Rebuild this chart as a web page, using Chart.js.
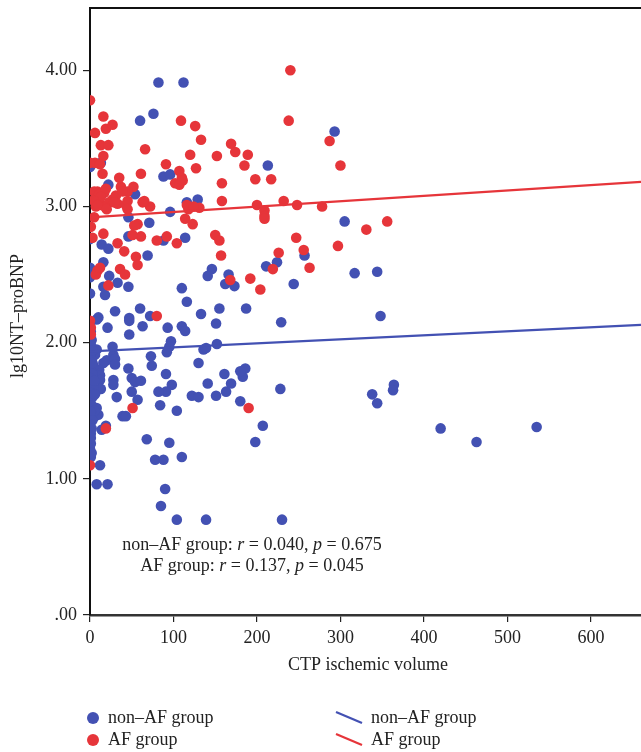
<!DOCTYPE html>
<html>
<head>
<meta charset="utf-8">
<script src="https://cdn.jsdelivr.net/npm/chart.js@4"></script>
<style>
  html, body { margin:0; padding:0; background:#fff; overflow:hidden; }
  #wrap { position:relative; width:641px; height:752px; }
</style>
</head>
<body>
<div id="wrap"><canvas id="c" width="641" height="752"></canvas></div>
<script>
// ---- data ----
const xTickValues = [0, 100, 200, 300, 400, 500, 600];
const yTickValues = [0, 1, 2, 3, 4];
const yTickLabels = ['.00', '1.00', '2.00', '3.00', '4.00'];

// AF group (red), [volume, lg10NT-proBNP]
const afPoints = [
  [240,4.00],[238,3.63],[0,3.78],[16,3.66],[6,3.54],[19,3.57],[27,3.60],[13,3.45],[22,3.45],[16,3.37],
  [6,3.32],[0,3.32],[12,3.31],[15,3.24],[66,3.42],[109,3.63],[126,3.59],[133,3.49],[120,3.38],[91,3.31],
  [127,3.28],[61,3.24],[107,3.26],[110,3.21],[102,3.17],[107,3.16],[111,3.19],[152,3.37],[169,3.46],[174,3.40],
  [189,3.38],[185,3.30],[158,3.17],[198,3.20],[217,3.20],[287,3.48],[300,3.30],[158,3.04],[200,3.01],[232,3.04],
  [248,3.01],[278,3.00],[209,2.97],[209,2.93],[209,2.91],[356,2.89],[331,2.83],[297,2.71],[247,2.77],[256,2.68],
  [263,2.55],[226,2.66],[219,2.54],[192,2.47],[204,2.39],[150,2.79],[155,2.75],[157,2.64],[168,2.46],[80,2.195],
  [118,2.98],[114,2.91],[123,2.87],[131,2.99],[104,2.73],[80,2.75],[92,2.78],[61,2.78],[57,2.87],[53,2.86],
  [51,2.79],[72,3.00],[63,3.03],[52,3.145],[45,3.11],[37,3.145],[35,3.21],[31,3.08],[27,3.05],[17,3.10],
  [9,3.11],[5,3.05],[13,3.01],[23,3.03],[33,3.02],[43,3.01],[7,3.00],[19,2.99],[116,3.01],[124,3.00],
  [5,3.11],[11,3.09],[19,3.13],[13,3.07],[5,3.04],[9,3.01],[20,2.98],[29,3.03],[5,2.92],[1,2.85],
  [3,2.77],[16,2.80],[9,2.53],[7,2.50],[12,2.55],[22,2.42],[33,2.73],[41,2.67],[55,2.63],[57,2.57],
  [36,2.54],[42,2.50],[0,2.16],[1,2.11],[1,2.06],[51,1.52],[19,1.37],[190,1.52],[0,1.10],[65,3.04],
  [45,3.04],[45,2.98],[39,3.11]
];

// non-AF group (blue)
const nonAfPoints = [
  [82,3.91],[112,3.91],[60,3.63],[76,3.68],[293,3.55],[213,3.30],[13,3.32],[0,3.29],[88,3.22],[96,3.235],
  [22,3.16],[54,3.09],[116,3.03],[129,3.05],[96,2.96],[46,2.92],[71,2.88],[114,2.77],[88,2.75],[46,2.78],
  [0,2.76],[14,2.72],[22,2.69],[69,2.64],[16,2.59],[305,2.89],[257,2.64],[224,2.59],[211,2.56],[146,2.54],
  [141,2.49],[166,2.50],[162,2.43],[173,2.415],[244,2.43],[317,2.51],[344,2.52],[110,2.40],[116,2.30],[155,2.25],
  [187,2.25],[60,2.25],[30,2.23],[23,2.49],[33,2.44],[16,2.41],[18,2.35],[46,2.41],[0,2.55],[0,2.48],
  [0,2.36],[348,2.195],[133,2.21],[72,2.195],[47,2.18],[10,2.185],[229,2.15],[8,2.17],[47,2.16],[63,2.12],
  [21,2.11],[47,2.06],[93,2.11],[110,2.12],[114,2.085],[151,2.14],[97,2.01],[95,1.97],[92,1.93],[136,1.95],
  [139,1.96],[152,1.99],[27,1.97],[28,1.91],[8,1.95],[6,1.91],[20,1.87],[30,1.88],[30,1.84],[16,1.85],
  [11,1.80],[12,1.76],[12,1.725],[13,1.66],[28,1.725],[28,1.69],[46,1.81],[50,1.74],[54,1.71],[61,1.72],
  [50,1.64],[57,1.58],[32,1.60],[73,1.90],[74,1.83],[91,1.77],[98,1.69],[91,1.64],[82,1.64],[84,1.54],
  [104,1.50],[130,1.85],[141,1.70],[151,1.61],[163,1.64],[169,1.70],[161,1.77],[122,1.61],[130,1.60],[180,1.57],
  [183,1.75],[186,1.81],[180,1.79],[228,1.66],[207,1.39],[198,1.27],[68,1.29],[95,1.265],[110,1.16],[78,1.14],
  [88,1.14],[90,0.925],[85,0.80],[104,0.70],[139,0.70],[230,0.70],[8,0.96],[21,0.96],[12,1.10],[39,1.46],
  [43,1.46],[14,1.36],[19,1.39],[8,1.52],[10,1.47],[6,1.46],[1,1.33],[1,1.26],[1,1.16],[338,1.62],
  [344,1.555],[364,1.69],[363,1.65],[420,1.37],[463,1.27],[535,1.38],
  [2,2.02],[1,1.98],[3,1.94],[0,1.90],[2,1.87],[4,1.83],[1,1.80],[3,1.77],[0,1.74],[2,1.70],
  [4,1.67],[1,1.63],[3,1.60],[0,1.57],[2,1.54],[5,1.50],[1,1.49],[3,1.43],[0,1.40],[2,1.37],
  [1,1.30],[0,1.22],[2,1.19],[3,1.85],[5,1.72],[6,1.62],[1,2.08],[0,2.13]
];

// fit lines (end points)
const fitX = [0, 660];
const afFitY = [2.92, 3.18];
const nonAfFitY = [1.935, 2.13];

const BLUE = '#4351b3';
const RED = '#e6353a';
const FONT = '"Liberation Serif", "DejaVu Serif", serif';
const FS = 18;
const toXY = arr => arr.map(p => ({ x: p[0], y: p[1] }));

// top frame line, stats text, axis titles and legend
const decor = {
  id: 'decor',
  afterDraw(chart) {
    const { ctx, chartArea: a } = chart;
    ctx.save();
    ctx.strokeStyle = '#111';
    ctx.lineWidth = 2;
    ctx.beginPath(); ctx.moveTo(a.left - 1, a.top); ctx.lineTo(a.right, a.top); ctx.stroke();

    ctx.fillStyle = '#222';
    ctx.textBaseline = 'middle';

    // stats text with italic r / p
    const lines = [
      [['non\u2013AF group: ', 0], ['r', 1], [' = 0.040, ', 0], ['p', 1], [' = 0.675', 0]],
      [['AF group: ', 0], ['r', 1], [' = 0.137, ', 0], ['p', 1], [' = 0.045', 0]]
    ];
    const fn = it => (it ? 'italic ' : '') + FS + 'px ' + FONT;
    lines.forEach((segs, i) => {
      let w = 0;
      segs.forEach(s => { ctx.font = fn(s[1]); w += ctx.measureText(s[0]).width; });
      let x = 252 - w / 2;
      const y = 545 + i * 21;
      ctx.textAlign = 'left';
      segs.forEach(s => { ctx.font = fn(s[1]); ctx.fillText(s[0], x, y); x += ctx.measureText(s[0]).width; });
    });

    // x title
    ctx.font = FS + 'px ' + FONT;
    ctx.textAlign = 'center';
    ctx.fillText('CTP ischemic volume', 368, 665);

    // y title
    ctx.save();
    ctx.translate(18, 316);
    ctx.rotate(-Math.PI / 2);
    ctx.fillText('lg10NT\u2013proBNP', 0, 0);
    ctx.restore();

    // legend
    ctx.textAlign = 'left';
    [[BLUE, 'non\u2013AF group', 718], [RED, 'AF group', 740]].forEach(([c, t, y]) => {
      ctx.fillStyle = c;
      ctx.beginPath(); ctx.arc(93, y, 6, 0, Math.PI * 2); ctx.fill();
      ctx.fillStyle = '#222';
      ctx.fillText(t, 108, y);
      ctx.strokeStyle = c; ctx.lineWidth = 2.2;
      ctx.beginPath(); ctx.moveTo(336, y - 6); ctx.lineTo(362, y + 5); ctx.stroke();
      ctx.fillText(t, 371, y);
    });
    ctx.restore();
  }
};

new Chart(document.getElementById('c'), {
  type: 'scatter',
  data: {
    datasets: [
      { label: 'non-AF fit', data: fitX.map((x, i) => ({ x, y: nonAfFitY[i] })), showLine: true,
        borderColor: BLUE, borderWidth: 2.2, pointRadius: 0, order: 0 },
      { label: 'AF fit', data: fitX.map((x, i) => ({ x, y: afFitY[i] })), showLine: true,
        borderColor: RED, borderWidth: 2.2, pointRadius: 0, order: 0 },
      { label: 'AF group', data: toXY(afPoints), backgroundColor: RED, borderWidth: 0, pointRadius: 5.3, order: 1 },
      { label: 'non-AF group', data: toXY(nonAfPoints), backgroundColor: BLUE, borderWidth: 0, pointRadius: 5.3, order: 2 }
    ]
  },
  options: {
    responsive: false,
    animation: false,
    events: [],
    layout: { autoPadding: false, padding: { top: 8, right: 0, left: 0, bottom: 0 } },
    plugins: { legend: { display: false }, tooltip: { enabled: false } },
    scales: {
      x: {
        type: 'linear', min: 0, max: 660,
        afterBuildTicks: s => { s.ticks = xTickValues.map(v => ({ value: v })); },
        afterFit: s => { s.height = 137; s.paddingLeft = 0; s.paddingRight = 0; },
        grid: { drawOnChartArea: false, drawTicks: true, tickLength: 7, color: '#222', lineWidth: 1.2 },
        border: { display: true, color: '#333', width: 2.5 },
        ticks: { color: '#222', font: { family: FONT, size: FS }, padding: 5, maxRotation: 0 }
      },
      y: {
        type: 'linear', min: 0, max: 4.457,
        afterBuildTicks: s => { s.ticks = yTickValues.map(v => ({ value: v })); },
        afterFit: s => { s.width = 90; s.paddingTop = 0; s.paddingBottom = 0; },
        grid: { drawOnChartArea: false, drawTicks: true, tickLength: 7, color: '#222', lineWidth: 1.2 },
        border: { display: true, color: '#111', width: 2 },
        ticks: { color: '#222', font: { family: FONT, size: FS }, padding: 6,
          callback: v => yTickLabels[yTickValues.indexOf(v)] }
      }
    }
  },
  plugins: [decor]
});
</script>
</body>
</html>
